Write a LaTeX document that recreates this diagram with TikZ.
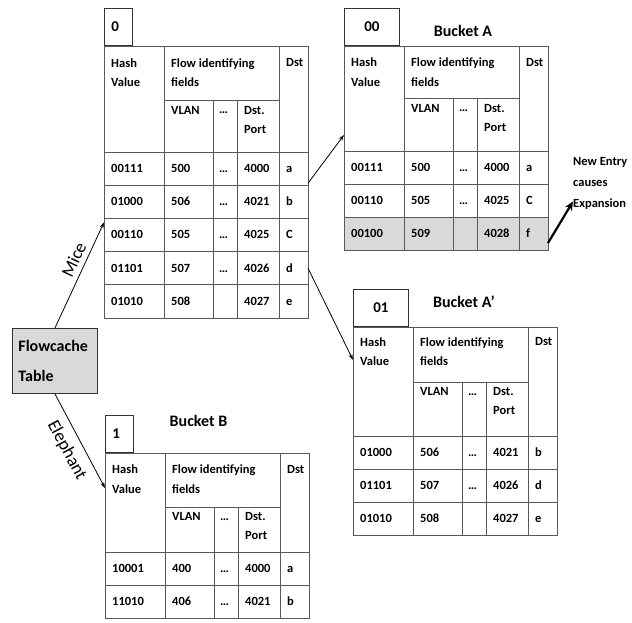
\documentclass[tikz,border=0pt]{standalone}
\usepackage{fontspec}
\setmainfont{Carlito}
\usetikzlibrary{arrows.meta}

\begin{document}
\begin{tikzpicture}[x=1pt, y=-1pt]
    % Define styles
    \tikzset{
        grid/.style={
            draw=black!65,
            line width=0.9pt
        },
        frame/.style={
            grid,
            anchor=north west,
            minimum width=204pt,
            inner sep=0pt,
            outer sep=0pt
        },
        rowbox/.style={
            frame,
            minimum height=33.2pt
        },
        txt/.style={
            font=\bfseries\fontsize{12.5}{19.5}\selectfont,
            inner sep=0pt,
            align=left
        },
        cell/.style={
            txt,
            anchor=base west
        },
        headtxt/.style={
            txt,
            anchor=north west
        },
        tag/.style={
            draw=black!80,
            line width=0.9pt,
            anchor=south west,
            minimum height=37pt,
            inner sep=0pt,
            font=\bfseries\fontsize{15}{18}\selectfont
        },
        lefttag/.style={
            tag,
            align=left,
            text width=14pt,
            inner xsep=7pt
        },
        title/.style={
            anchor=base,
            font=\bfseries\fontsize{16}{18}\selectfont
        },
        fc/.style={
            draw=black!80,
            line width=0.9pt,
            fill=black!15,
            anchor=north west,
            minimum height=65pt,
            text width=73pt,
            inner xsep=6pt,
            align=left,
            font=\bfseries\fontsize{16}{30}\selectfont
        },
        note/.style={
            anchor=north west,
            inner sep=0pt,
            align=left,
            font=\bfseries\fontsize{12.5}{21}\selectfont
        },
        lbl/.style={
            inner sep=0pt,
            font=\fontsize{18}{20}\selectfont
        },
        link/.style={
            -{Stealth[length=6pt, width=4pt]},
            line width=0.8pt
        },
        fat/.style={
            -{Stealth[length=9pt, width=8pt]},
            line width=2.2pt
        }
    }
    \useasboundingbox (0,0) rectangle (632,623);

    % Flowcache table
    \node[fc] (fc) at (12,328) {Flowcache\\Table};

    % Table 0
    \begin{scope}[shift={(104,46)}]
        \node[frame, minimum height=106pt] (t0-head) at (0,0) {};
        \node[lefttag] (t0-tag) at (0,0) {0};
        \foreach \h/\v/\s/\p/\d [count=\i] in {00111/500/…/4000/a, 01000/506/…/4021/b, 00110/505/…/4025/C, 01101/507/…/4026/d, 01010/508//4027/e} {
            \node[rowbox] (t0-r\i) at (0,{106+(\i-1)*33.2}) {};
            \node[cell] (t0-h\i) at (7,{126.5+(\i-1)*33.2}) {\h};
            \node[cell] (t0-v\i) at (67,{126.5+(\i-1)*33.2}) {\v};
            \node[cell] (t0-s\i) at (115,{126.5+(\i-1)*33.2}) {\s};
            \node[cell] (t0-p\i) at (140,{126.5+(\i-1)*33.2}) {\p};
            \node[cell] (t0-d\i) at (182,{126.5+(\i-1)*33.2}) {\d};
        }
        \draw[grid] (60,0) -- (60,272) (175,0) -- (175,272)
            (60,54) -- (175,54) (109,54) -- (109,272) (133,54) -- (133,272);
        \node[headtxt] (t0-hash) at (7,12.5) {Hash\\Value};
        \node[headtxt] (t0-flow) at (67,12.5) {Flow identifying\\fields};
        \node[headtxt] (t0-dst) at (182,12.5) {Dst};
        \node[headtxt] (t0-vlan) at (67,60) {VLAN};
        \node[cell] (t0-dots) at (115,68) {…};
        \node[headtxt] (t0-port) at (140,60) {Dst.\\Port};
    \end{scope}

    % Bucket A
    \begin{scope}[shift={(344,46)}]
        \node[frame, minimum height=105pt] (tA-head) at (0,0) {};
        \node[tag, minimum width=55pt] (tA-tag) at (0,0) {00};
        \node[title] (tA-title) at (119,-9) {Bucket A};
        \foreach \h/\v/\s/\p/\d/\c [count=\i] in {00111/500/…/4000/a/white, 00110/505/…/4025/C/white, 00100/509//4028/f/black!15} {
            \node[rowbox, fill=\c] (tA-r\i) at (0,{105+(\i-1)*33.2}) {};
            \node[cell] (tA-h\i) at (7,{125.5+(\i-1)*33.2}) {\h};
            \node[cell] (tA-v\i) at (67,{125.5+(\i-1)*33.2}) {\v};
            \node[cell] (tA-s\i) at (115,{125.5+(\i-1)*33.2}) {\s};
            \node[cell] (tA-p\i) at (140,{125.5+(\i-1)*33.2}) {\p};
            \node[cell] (tA-d\i) at (182,{125.5+(\i-1)*33.2}) {\d};
        }
        \draw[grid] (60,0) -- (60,204.6) (175,0) -- (175,204.6)
            (60,52) -- (175,52) (109,52) -- (109,204.6) (133,52) -- (133,204.6);
        \node[headtxt] (tA-hash) at (7,12) {Hash\\Value};
        \node[headtxt] (tA-flow) at (67,12) {Flow identifying\\fields};
        \node[headtxt] (tA-dst) at (182,12) {Dst};
        \node[headtxt] (tA-vlan) at (67,58) {VLAN};
        \node[cell] (tA-dots) at (115,66) {…};
        \node[headtxt] (tA-port) at (140,58) {Dst.\\Port};
    \end{scope}

    % Bucket A'
    \begin{scope}[shift={(353,327)}]
        \node[frame, minimum height=109pt] (tAp-head) at (0,0) {};
        \node[tag, minimum width=55pt] (tAp-tag) at (0,0) {01};
        \node[title] (tAp-title) at (111,-20) {Bucket A’};
        \foreach \h/\v/\s/\p/\d [count=\i] in {01000/506/…/4021/b, 01101/507/…/4026/d, 01010/508//4027/e} {
            \node[rowbox] (tAp-r\i) at (0,{109+(\i-1)*33.2}) {};
            \node[cell] (tAp-h\i) at (7,{129.5+(\i-1)*33.2}) {\h};
            \node[cell] (tAp-v\i) at (67,{129.5+(\i-1)*33.2}) {\v};
            \node[cell] (tAp-s\i) at (115,{129.5+(\i-1)*33.2}) {\s};
            \node[cell] (tAp-p\i) at (140,{129.5+(\i-1)*33.2}) {\p};
            \node[cell] (tAp-d\i) at (182,{129.5+(\i-1)*33.2}) {\d};
        }
        \draw[grid] (60,0) -- (60,208.6) (175,0) -- (175,208.6)
            (60,55) -- (175,55) (109,55) -- (109,208.6) (133,55) -- (133,208.6);
        \node[headtxt] (tAp-hash) at (7,10.5) {Hash\\Value};
        \node[headtxt] (tAp-flow) at (67,10.5) {Flow identifying\\fields};
        \node[headtxt] (tAp-dst) at (182,10.5) {Dst};
        \node[headtxt] (tAp-vlan) at (67,60) {VLAN};
        \node[cell] (tAp-dots) at (115,68) {…};
        \node[headtxt] (tAp-port) at (140,60) {Dst.\\Port};
    \end{scope}

    % Bucket B
    \begin{scope}[shift={(105,453)}]
        \node[frame, minimum height=99pt] (tB-head) at (0,0) {};
        \node[lefttag] (tB-tag) at (0,0) {1};
        \node[title] (tB-title) at (93.5,-27) {Bucket B};
        \foreach \h/\v/\s/\p/\d [count=\i] in {10001/400/…/4000/a, 11010/406/…/4021/b} {
            \node[rowbox] (tB-r\i) at (0,{99+(\i-1)*33.2}) {};
            \node[cell] (tB-h\i) at (7,{119.5+(\i-1)*33.2}) {\h};
            \node[cell] (tB-v\i) at (67,{119.5+(\i-1)*33.2}) {\v};
            \node[cell] (tB-s\i) at (115,{119.5+(\i-1)*33.2}) {\s};
            \node[cell] (tB-p\i) at (140,{119.5+(\i-1)*33.2}) {\p};
            \node[cell] (tB-d\i) at (182,{119.5+(\i-1)*33.2}) {\d};
        }
        \draw[grid] (60,0) -- (60,165.4) (175,0) -- (175,165.4)
            (60,54) -- (175,54) (109,54) -- (109,165.4) (133,54) -- (133,165.4);
        \node[headtxt] (tB-hash) at (7,12) {Hash\\Value};
        \node[headtxt] (tB-flow) at (67,12) {Flow identifying\\fields};
        \node[headtxt] (tB-dst) at (182,12) {Dst};
        \node[headtxt] (tB-vlan) at (67,59) {VLAN};
        \node[cell] (tB-dots) at (115,67) {…};
        \node[headtxt] (tB-port) at (140,59) {Dst.\\Port};
    \end{scope}

    % Expansion note
    \node[note] (note) at (573,157) {New Entry\\causes\\Expansion};

    % Arrows
    \draw[link] (fc.north) -- node[lbl, sloped, above=5pt, pos=0.6] (mice) {Mice}
        ([yshift=-4pt]t0-r3.north west);
    \draw[link] (fc.south) -- node[lbl, sloped, below=8pt, pos=0.52] (elephant) {Elephant}
        ([yshift=-35pt]tB-head.north west);
    \draw[link] ([yshift=2pt]t0-r1.south east) -- ([yshift=16pt]tA-head.south west);
    \draw[link] (t0-r4.east) -- ([yshift=-33pt]tAp-head.north west);
    \draw[fat] ([yshift=-9pt]tA-r3.east) -- ([yshift=8pt]note.south west);
\end{tikzpicture}
\end{document}
